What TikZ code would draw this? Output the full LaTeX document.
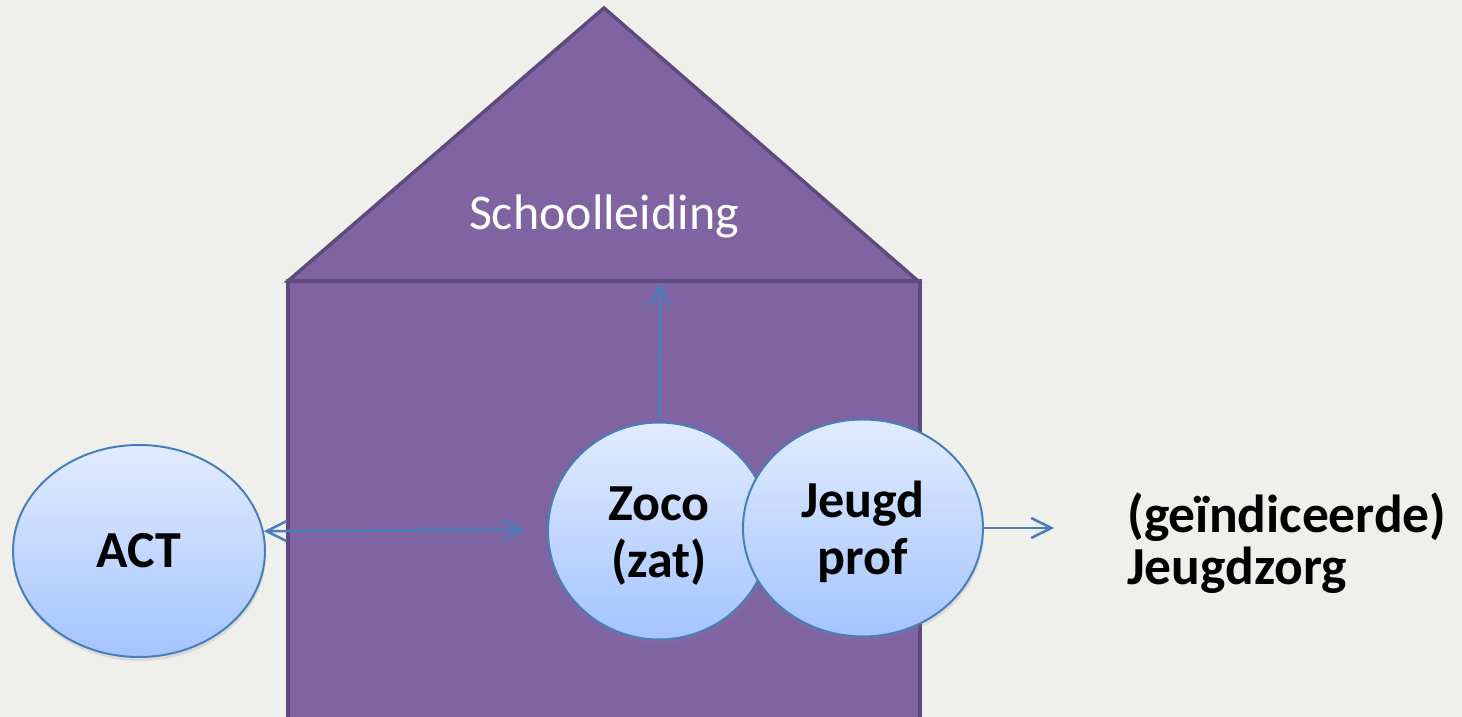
\documentclass[tikz,border=0pt]{standalone}
\usepackage{fontspec}
\setmainfont{Carlito}
\usetikzlibrary{shapes.geometric,arrows.meta,shadows}
\definecolor{bg}{RGB}{239,239,236}
\definecolor{housefill}{RGB}{128,100,162}
\definecolor{houseline}{RGB}{94,74,124}
\definecolor{bubtop}{RGB}{226,236,255}
\definecolor{bubbot}{RGB}{164,196,255}
\definecolor{bubline}{RGB}{74,126,187}
\tikzset{
  bubble/.style={ellipse, draw=bubline, line width=2pt, inner sep=0pt,
    top color=bubtop, bottom color=bubbot, align=center,
    font=\fontsize{52}{57}\selectfont\bfseries,
    drop shadow={opacity=0.18, shadow xshift=1pt, shadow yshift=-4pt}},
  conn/.style={draw=bubline, line width=2.5pt, arrows={-Straight Barb[length=20pt,width=20pt,line width=2.5pt]}},
  conn2/.style={draw=bubline, line width=2.5pt,
    arrows={Straight Barb[length=20pt,width=20pt,line width=2.5pt]-Straight Barb[length=20pt,width=20pt,line width=2.5pt]}},
  housepart/.style={fill=housefill, draw=houseline, line width=3.5pt, line join=miter},
  plain/.style={font=\fontsize{53.5}{52}\selectfont\bfseries, align=left, inner sep=0pt}
}
\begin{document}
\begin{tikzpicture}[x=1pt,y=1pt]
\useasboundingbox (0,0) rectangle (1462,717);
\fill[bg] (0,0) rectangle (1462,717);
\begin{scope}
\clip (0,0) rectangle (1462,717);
\path[housepart] (288,-10) rectangle (920,436);
\path[housepart] (288,436) -- (604,709) -- (918,436) -- cycle;
\end{scope}
\node[text=white, font=\fontsize{50}{60}\selectfont, anchor=base, inner sep=0pt] (school) at (604,487) {Schoolleiding};
\node[bubble, minimum width=252pt, minimum height=212pt] (act) at (139,166) {ACT};
\node[bubble, minimum width=222pt, minimum height=217pt] (zoco) at (659,186) {\rule{0pt}{44pt}Zoco\\(zat)};
\node[bubble, minimum width=240pt, minimum height=217pt] (jeugd) at (863,189) {\rule{0pt}{44pt}Jeugd\\prof};
\node[plain, anchor=base west] (jz) at (1127,132) {(geïndiceerde)\\Jeugdzorg};
\coordinate (arrR) at (525,187);
\coordinate (arrU) at (660,434);
\coordinate (arrJ) at (1054,189);
\draw[conn2] (act.9.6) -- (arrR);
\draw[conn] (zoco.north) -- (arrU);
\draw[conn] (jeugd.east) -- (arrJ);
\end{tikzpicture}
\end{document}
